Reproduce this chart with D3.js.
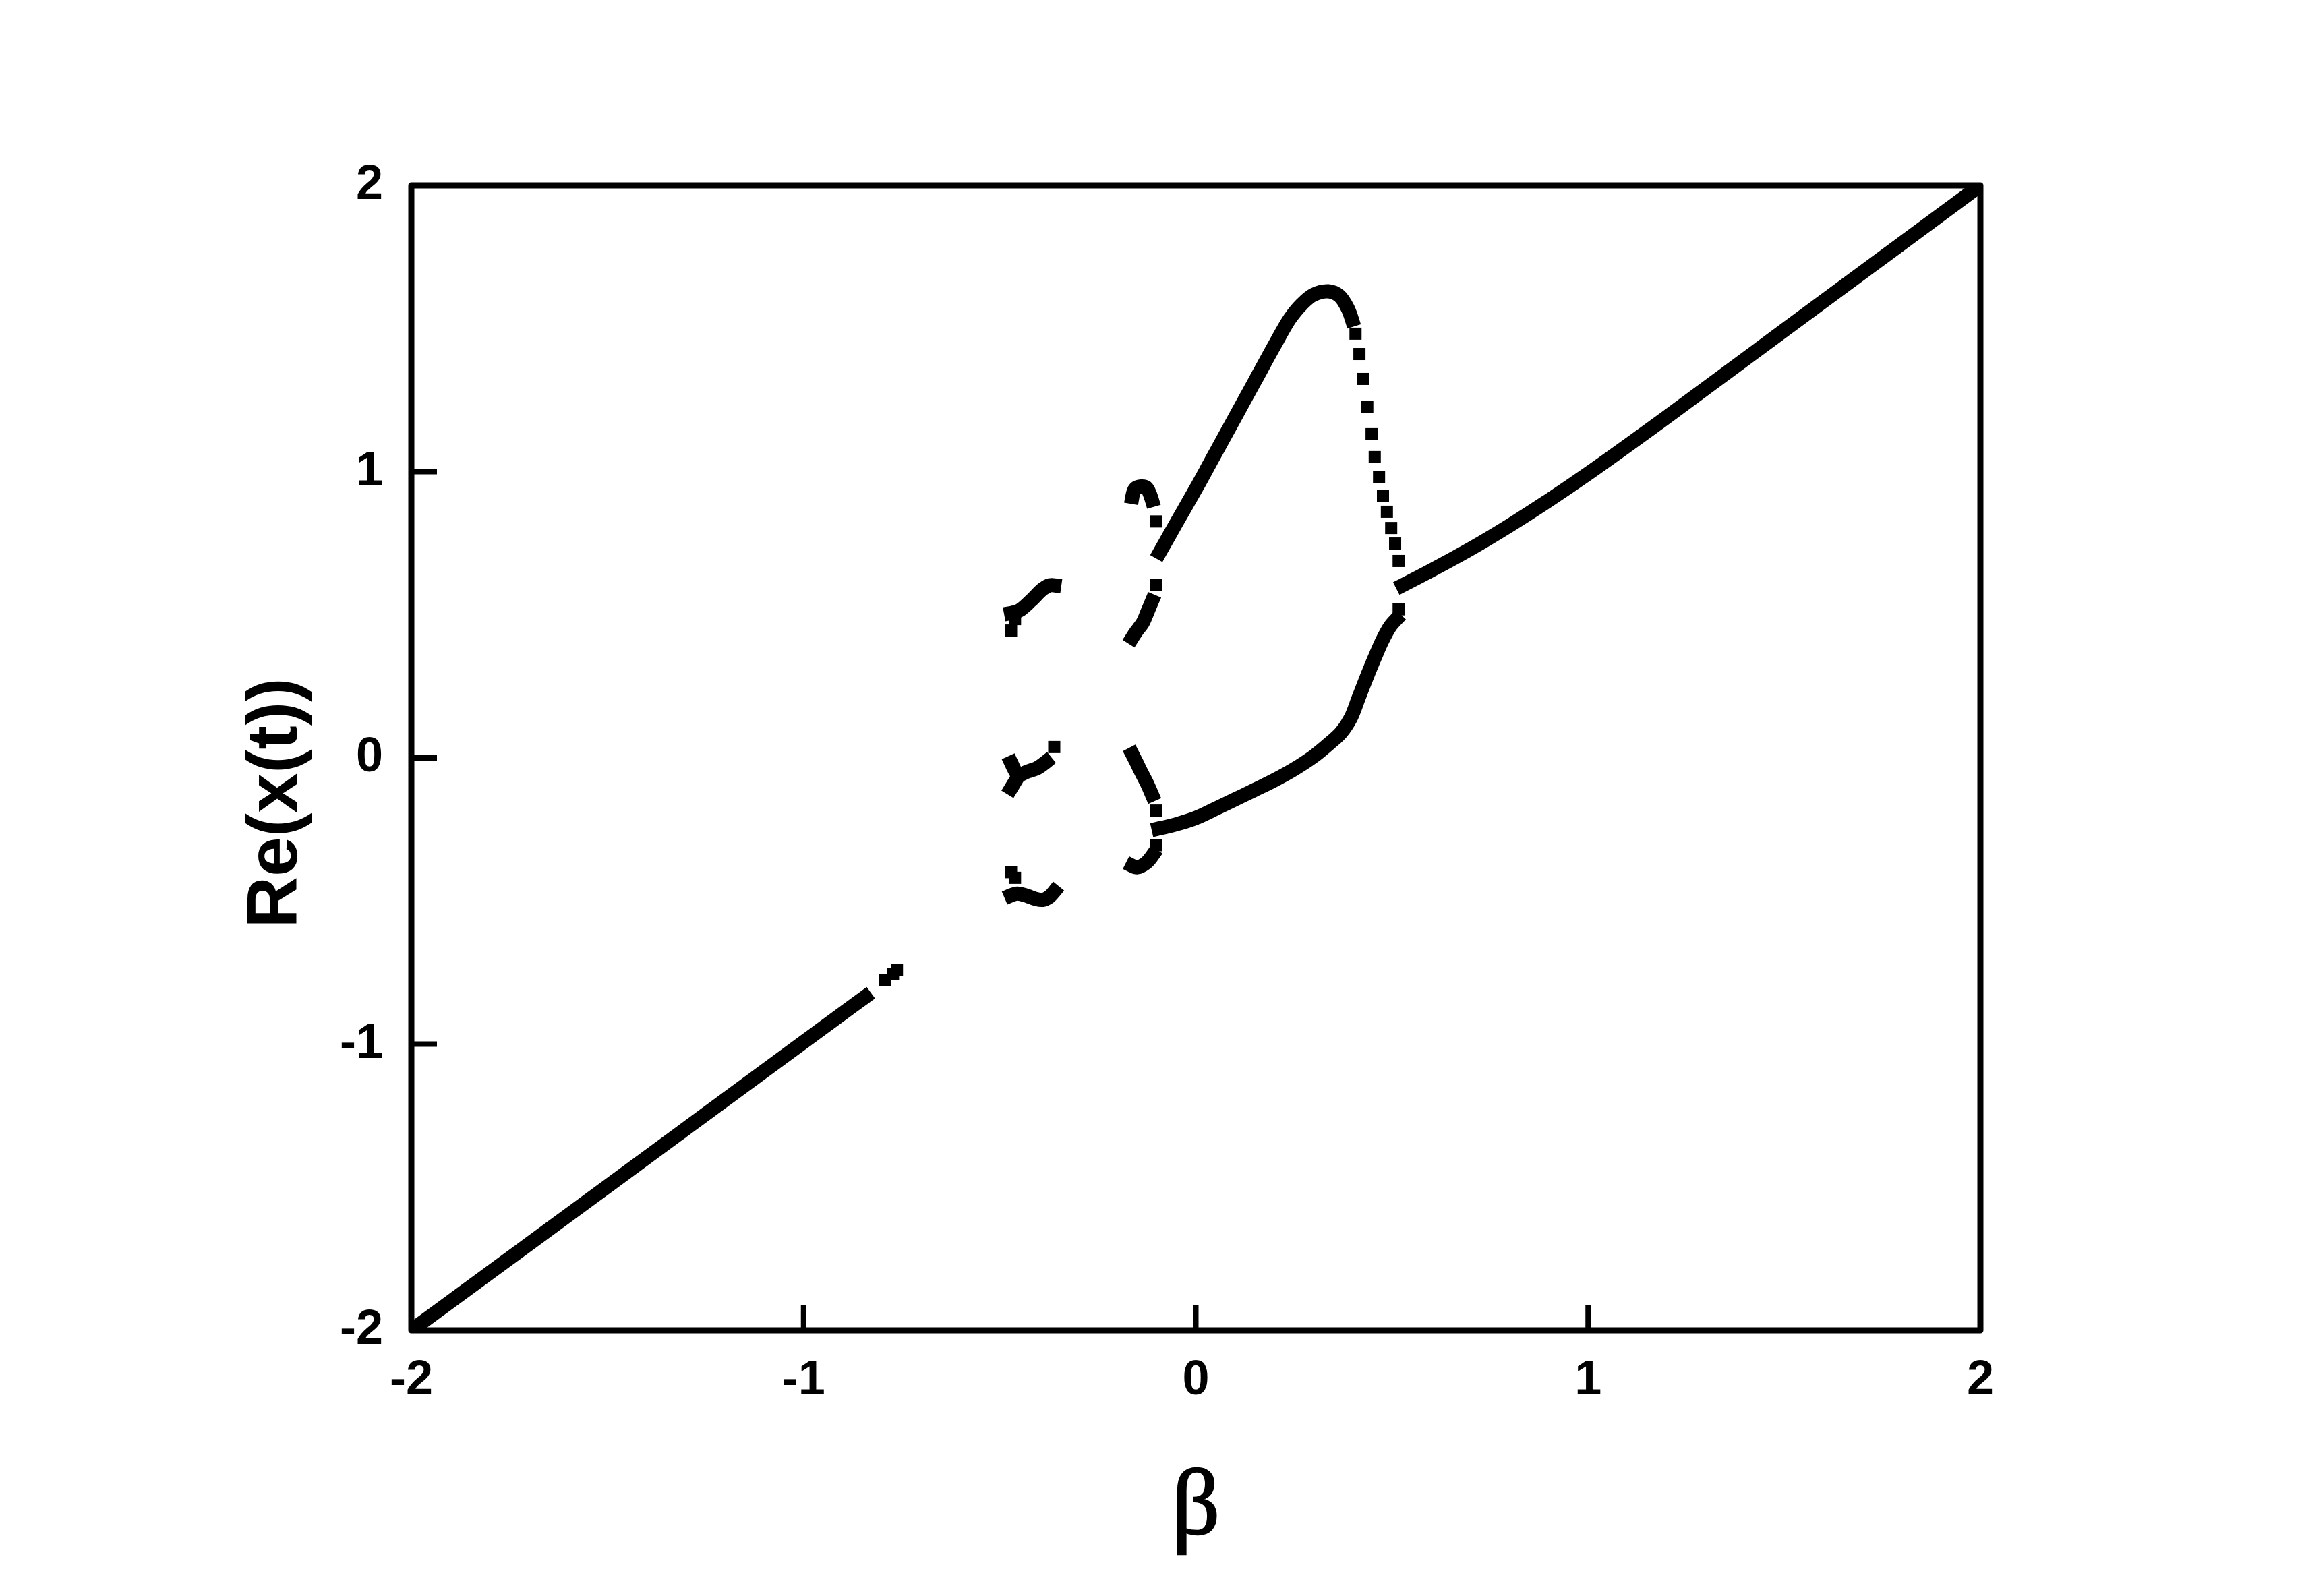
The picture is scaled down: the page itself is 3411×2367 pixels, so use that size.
<!DOCTYPE html>
<html>
<head>
<meta charset="utf-8">
<script src="https://cdn.jsdelivr.net/npm/d3@7"></script>
<style>
  body { margin: 0; background: #fff; }
  svg { display: block; }
</style>
</head>
<body>
<div id="chart"></div>
<script>
/**
 * CONSTANTS
 * */
const width = 3411,
  height = 2367,
  margin = { top: 275, bottom: 394, left: 610, right: 474 };

// tick values
const xTicks = [-2, -1, 0, 1, 2];
const yTicks = [-2, -1, 0, 1, 2];

// dense runs of points, drawn as thick lines  [beta, Re(x)]
const diagonalLow = [[-2, -2], [-1.5, -1.497], [-1, -0.993], [-0.843, -0.835]];
const leftUpper = [[-0.471, 0.506], [-0.45, 0.515], [-0.42, 0.55], [-0.39, 0.59], [-0.372, 0.603], [-0.361, 0.603]];
const leftMidArmA = [[-0.471, -0.017], [-0.461, -0.045], [-0.453, -0.062]];
const leftMidArmB = [[-0.471, -0.106], [-0.453, -0.065]];
const leftMid = [[-0.453, -0.063], [-0.43, -0.048], [-0.405, -0.036], [-0.382, -0.014]];
const leftLower = [[-0.471, -0.48], [-0.455, -0.474], [-0.43, -0.482], [-0.41, -0.492], [-0.39, -0.496], [-0.375, -0.487], [-0.361, -0.467]];
const midTop = [[-0.162, 0.912], [-0.155, 0.94], [-0.14, 0.948], [-0.126, 0.944], [-0.112, 0.901]];
const midUpper = [[-0.162, 0.42], [-0.152, 0.441], [-0.135, 0.473], [-0.124, 0.508], [-0.112, 0.547]];
const midLower = [[-0.162, 0.013], [-0.152, -0.014], [-0.141, -0.045], [-0.126, -0.085], [-0.112, -0.128]];
const midBottom = [[-0.162, -0.377], [-0.149, -0.382], [-0.126, -0.366], [-0.11, -0.34]];
const upperBranch = [[-0.092, 0.718], [-0.05, 0.82], [0.0, 0.94], [0.05, 1.065], [0.1, 1.19], [0.15, 1.315], [0.2, 1.44],
  [0.24, 1.535], [0.27, 1.585], [0.3, 1.618], [0.338, 1.63], [0.366, 1.614], [0.387, 1.571], [0.398, 1.531]];
const lowerBranch = [[-0.095, -0.247], [-0.05, -0.232], [0.0, -0.21], [0.05, -0.178], [0.1, -0.145], [0.15, -0.112],
  [0.2, -0.078], [0.25, -0.04], [0.3, 0.005], [0.34, 0.05], [0.37, 0.088], [0.395, 0.14], [0.415, 0.21],
  [0.435, 0.28], [0.456, 0.35], [0.476, 0.412], [0.495, 0.459], [0.51, 0.483]];
const rightBranch = [[0.527, 0.603], [0.6, 0.655], [0.7, 0.73], [0.8, 0.812], [0.9, 0.9], [1.0, 0.993], [1.2, 1.19],
  [1.5, 1.494], [2.0, 2.0]];

// single points, drawn as squares
const strayPoints = [[-0.793, -0.776], [-0.772, -0.755], [-0.762, -0.74]];
const leftPoints = [[-0.461, 0.485], [-0.471, 0.445], [-0.361, 0.038], [-0.471, -0.399], [-0.461, -0.419]];
const midPoints = [[-0.102, 0.826], [-0.102, 0.604], [-0.102, -0.184], [-0.102, -0.305]];
const upperDots = [[0.407, 1.482], [0.417, 1.411], [0.427, 1.324], [0.437, 1.225], [0.448, 1.131], [0.456, 1.051],
  [0.467, 0.98], [0.477, 0.916], [0.487, 0.86], [0.498, 0.803], [0.508, 0.749], [0.517, 0.688], [0.517, 0.519]];

const runs = [diagonalLow, leftUpper, leftMidArmA, leftMidArmB, leftMid, leftLower,
  midTop, midUpper, midLower, midBottom, upperBranch, lowerBranch, rightBranch];
const dots = [...strayPoints, ...leftPoints, ...midPoints, ...upperDots];

/**
 * DRAW
 * */
const svg = d3.select("#chart")
  .append("svg")
  .attr("width", width)
  .attr("height", height);

svg.append("rect").attr("width", width).attr("height", height).attr("fill", "#fff");

const x = d3.scaleLinear().domain([-2, 2]).range([margin.left, width - margin.right]);
const y = d3.scaleLinear().domain([-2, 2]).range([height - margin.bottom, margin.top]);

svg.append("clipPath").attr("id", "plot-clip")
  .append("rect")
  .attr("x", margin.left).attr("y", margin.top)
  .attr("width", x(2) - x(-2)).attr("height", y(-2) - y(2));

const plot = svg.append("g").attr("clip-path", "url(#plot-clip)");

// smooth the dense runs a little so the kinks between read points don't show
const line = d3.line()
  .x(d => x(d[0]))
  .y(d => y(d[1]))
  .curve(d3.curveCatmullRom.alpha(0.5));

plot.selectAll("path.run")
  .data(runs)
  .join("path")
  .attr("class", "run")
  .attr("d", line)
  .attr("fill", "none")
  .attr("stroke", "#000")
  .attr("stroke-width", 21)
  .attr("stroke-linecap", "square")
  .attr("stroke-linejoin", "round");

const sq = 18;
plot.selectAll("rect.dot")
  .data(dots)
  .join("rect")
  .attr("class", "dot")
  .attr("x", d => x(d[0]) - sq / 2)
  .attr("y", d => y(d[1]) - sq / 2)
  .attr("width", sq)
  .attr("height", sq)
  .attr("fill", "#000");

// ticks (inside)
const tickLen = 38;
svg.selectAll("line.xtick")
  .data(xTicks)
  .join("line")
  .attr("class", "xtick")
  .attr("x1", d => x(d)).attr("x2", d => x(d))
  .attr("y1", y(-2)).attr("y2", y(-2) - tickLen)
  .attr("stroke", "#000").attr("stroke-width", 8);

svg.selectAll("line.ytick")
  .data(yTicks)
  .join("line")
  .attr("class", "ytick")
  .attr("y1", d => y(d)).attr("y2", d => y(d))
  .attr("x1", x(-2)).attr("x2", x(-2) + tickLen)
  .attr("stroke", "#000").attr("stroke-width", 8);

// frame
svg.append("rect")
  .attr("x", x(-2)).attr("y", y(2))
  .attr("width", x(2) - x(-2)).attr("height", y(-2) - y(2))
  .attr("fill", "none")
  .attr("stroke", "#000")
  .attr("stroke-width", 9)
  .attr("stroke-linejoin", "round");

// tick labels
const labelFont = "'Liberation Sans', Arial, sans-serif";
svg.selectAll("text.xlab")
  .data(xTicks)
  .join("text")
  .attr("class", "xlab")
  .attr("x", d => x(d))
  .attr("y", y(-2) + 95)
  .attr("text-anchor", "middle")
  .attr("font-family", labelFont)
  .attr("font-weight", "bold")
  .attr("font-size", 72)
  .text(d => d);

svg.selectAll("text.ylab")
  .data(yTicks)
  .join("text")
  .attr("class", "ylab")
  .attr("x", x(-2) - 42)
  .attr("y", d => y(d) + 20)
  .attr("text-anchor", "end")
  .attr("font-family", labelFont)
  .attr("font-weight", "bold")
  .attr("font-size", 72)
  .text(d => d);

// axis titles
svg.append("text")
  .attr("transform", "translate(440,1191) rotate(-90)")
  .attr("text-anchor", "middle")
  .attr("font-family", labelFont)
  .attr("font-weight", "bold")
  .attr("font-size", 106)
  .text("Re(x(t))");

svg.append("text")
  .attr("x", x(0))
  .attr("y", 2275)
  .attr("text-anchor", "middle")
  .attr("font-family", "'Liberation Serif', 'Times New Roman', serif")
  .attr("font-size", 140)
  .attr("stroke", "#000")
  .attr("stroke-width", 2.5)
  .text("β");
</script>
</body>
</html>
